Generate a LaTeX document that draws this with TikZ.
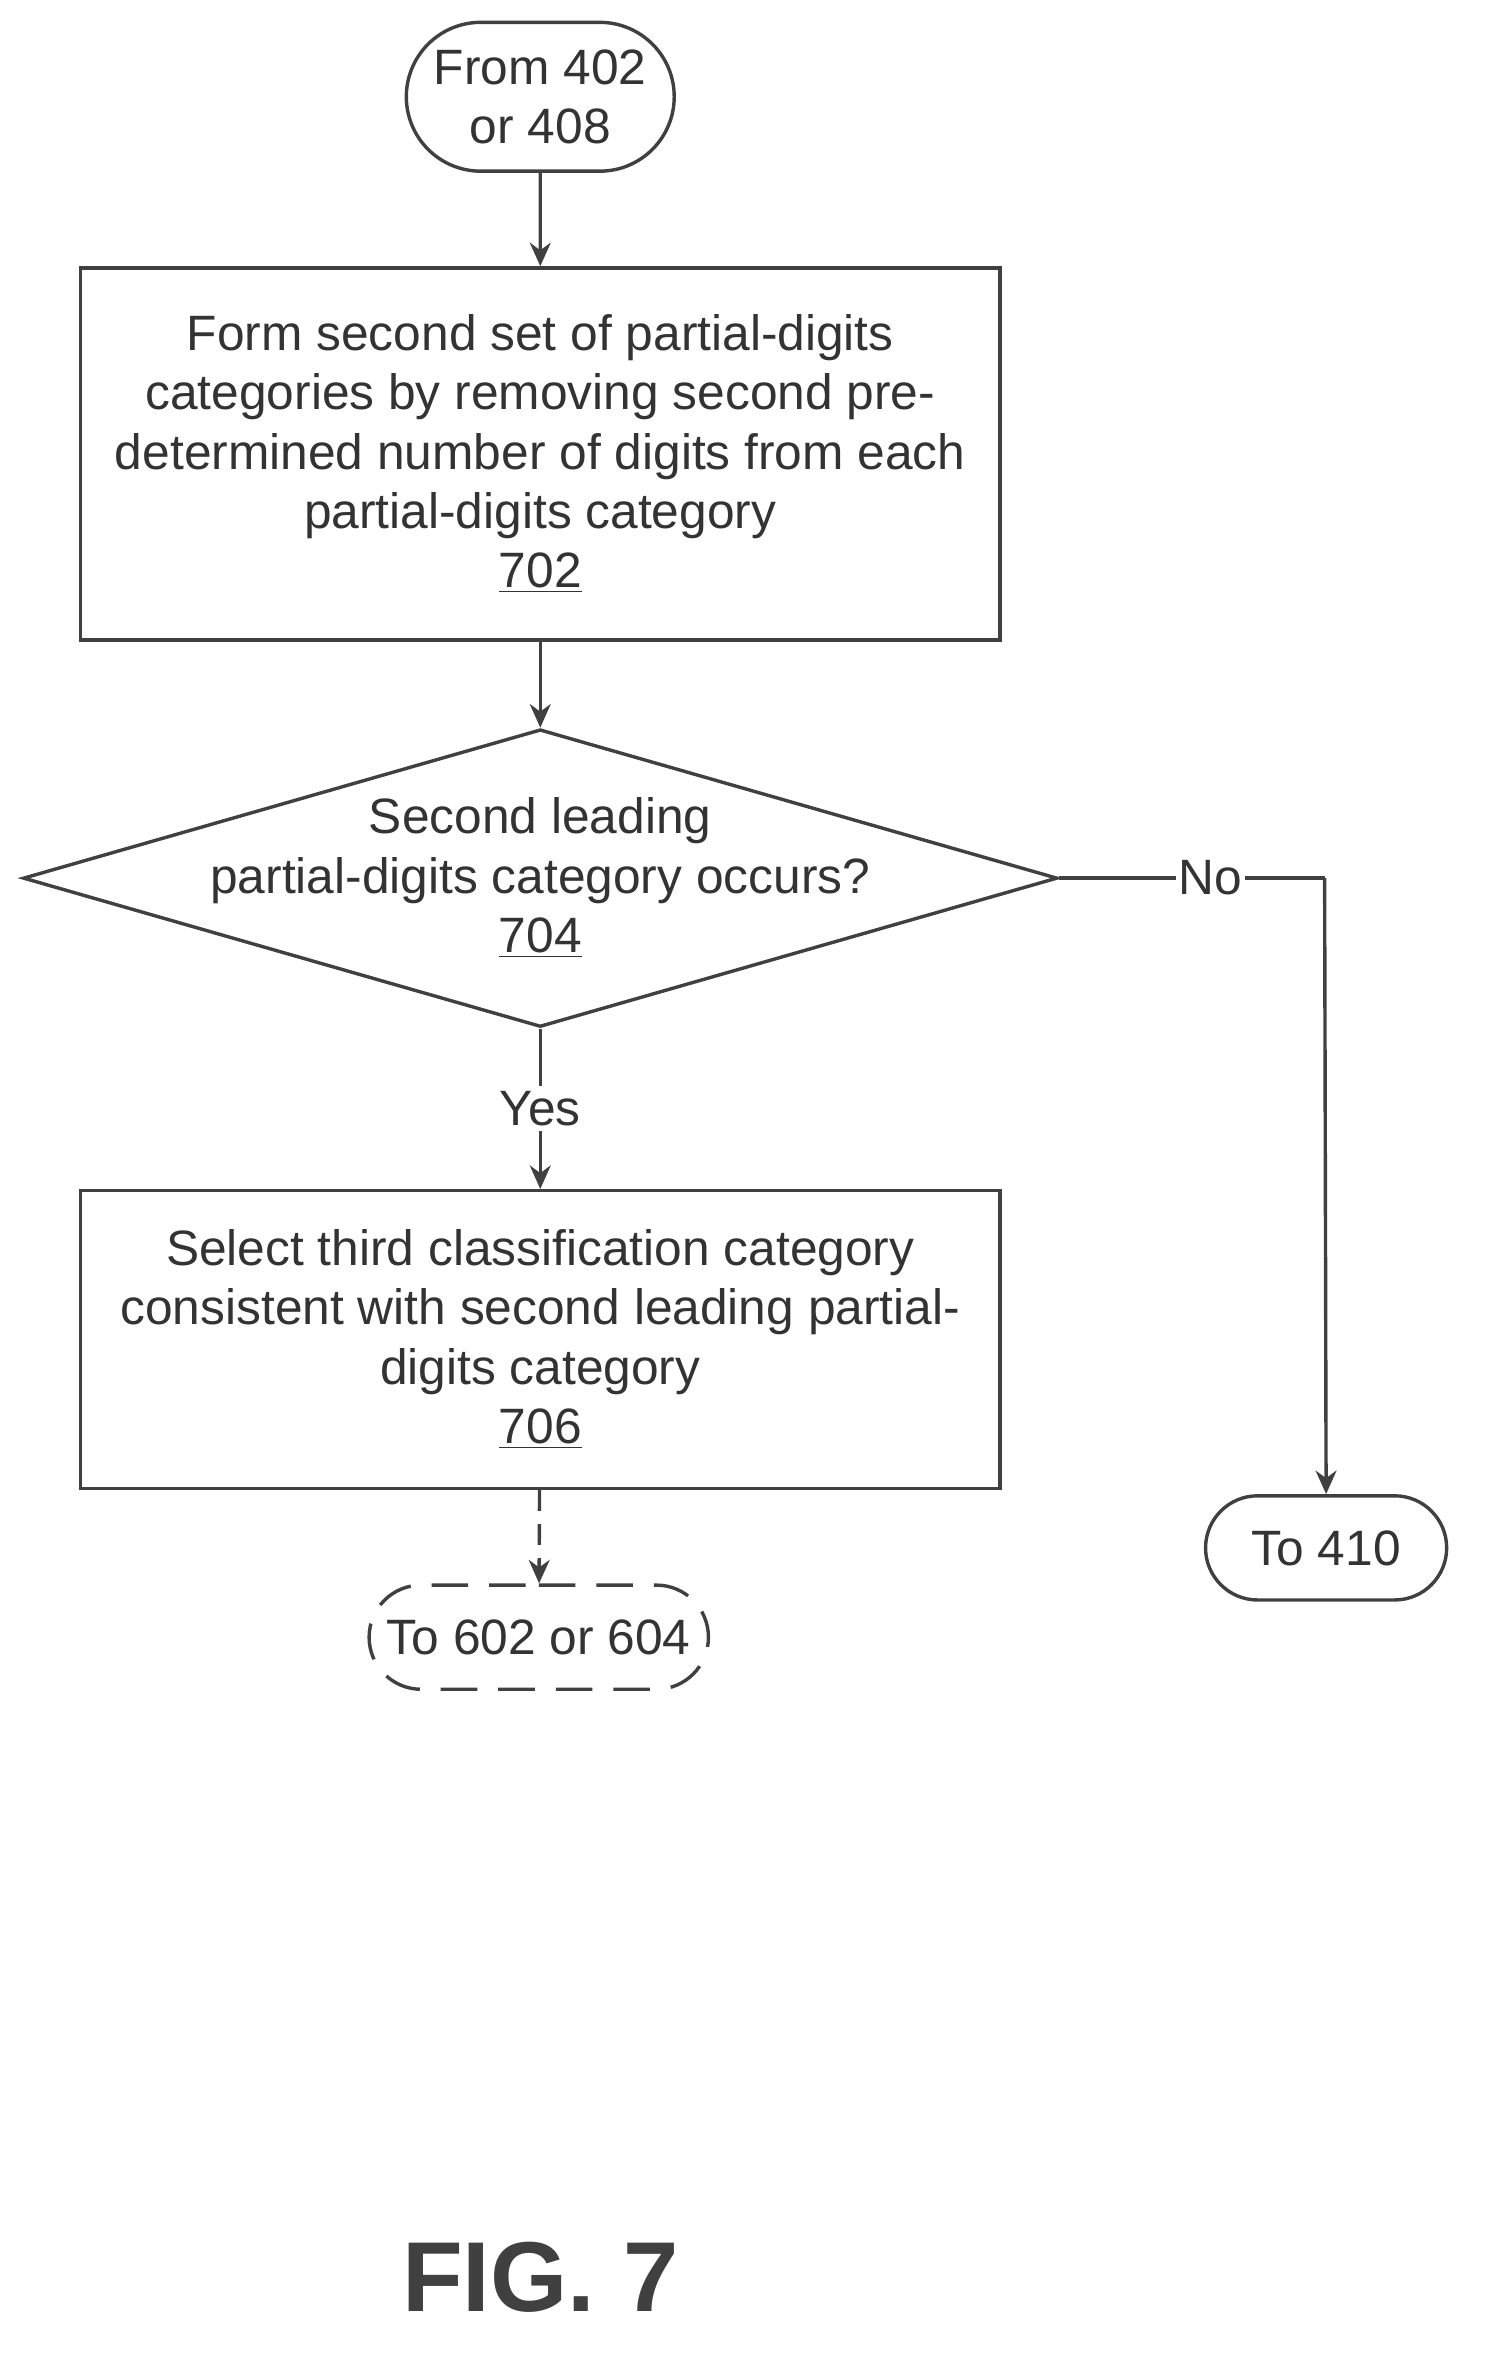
\documentclass[tikz,border=0pt]{standalone}
\usepackage{fontspec}
\setmainfont{Liberation Sans}
\usetikzlibrary{shapes.geometric,shapes.misc,arrows.meta}
\begin{document}
\begin{tikzpicture}[x=0.02cm,y=-0.02cm,
  line/.style={draw=black!75,line width=1.3pt},
  arr/.style={line,-{Stealth[length=9pt,width=8pt]}},
  txt/.style={font=\fontsize{19}{22.7}\selectfont,align=center,text=black!80},
  box/.style={line,rectangle,txt,minimum width=618*0.02cm,inner sep=0pt},
  term/.style={line,rounded rectangle,txt,inner sep=0pt}]
\useasboundingbox (0,0) rectangle (1000,1587);
\node[term,minimum width=180*0.02cm,minimum height=100*0.02cm] (s) at (363,65) {From 402\\or 408};
\node[box,minimum height=250*0.02cm] (b1) at (363,305) {Form second set of partial-digits\\categories by removing second pre-\\determined number of digits from each\\partial-digits category\\\underline{702}};
\node[line,diamond,aspect=3.475,minimum width=695*0.02cm,minimum height=200*0.02cm,inner sep=0pt] (d) at (363,590) {};
\node[txt] at (363,590) {Second leading\\partial-digits category occurs?\\\underline{704}};
\node[box,minimum height=200*0.02cm] (b2) at (363,900) {Select third classification category\\consistent with second leading partial-\\digits category\\\underline{706}};
\node[term,minimum width=162*0.02cm,minimum height=70*0.02cm] (t1) at (891,1040) {To 410};
\node[term,dashed,dash pattern=on 14pt off 8pt,minimum width=228*0.02cm,minimum height=70*0.02cm] (t2) at (362,1100) {To 602 or 604};
\draw[arr] (s) -- (b1);
\draw[arr] (b1) -- (d.north);
\draw[arr] (d.south) -- node[txt,fill=white,inner sep=2pt,pos=0.5]{Yes} (b2);
\coordinate (c) at (890,590);
\draw[line] (d.east) -- node[txt,fill=white,inner sep=1pt,pos=0.57]{No} (c);
\draw[arr] (c) -- (t1.north);
\draw[arr,dashed,dash pattern=on 8pt off 5pt] (b2) -- (t2);
\node[font=\bfseries\fontsize{38}{40}\selectfont,text=black!75] (fig) at (363,1530) {FIG. 7};
\end{tikzpicture}
\end{document}
